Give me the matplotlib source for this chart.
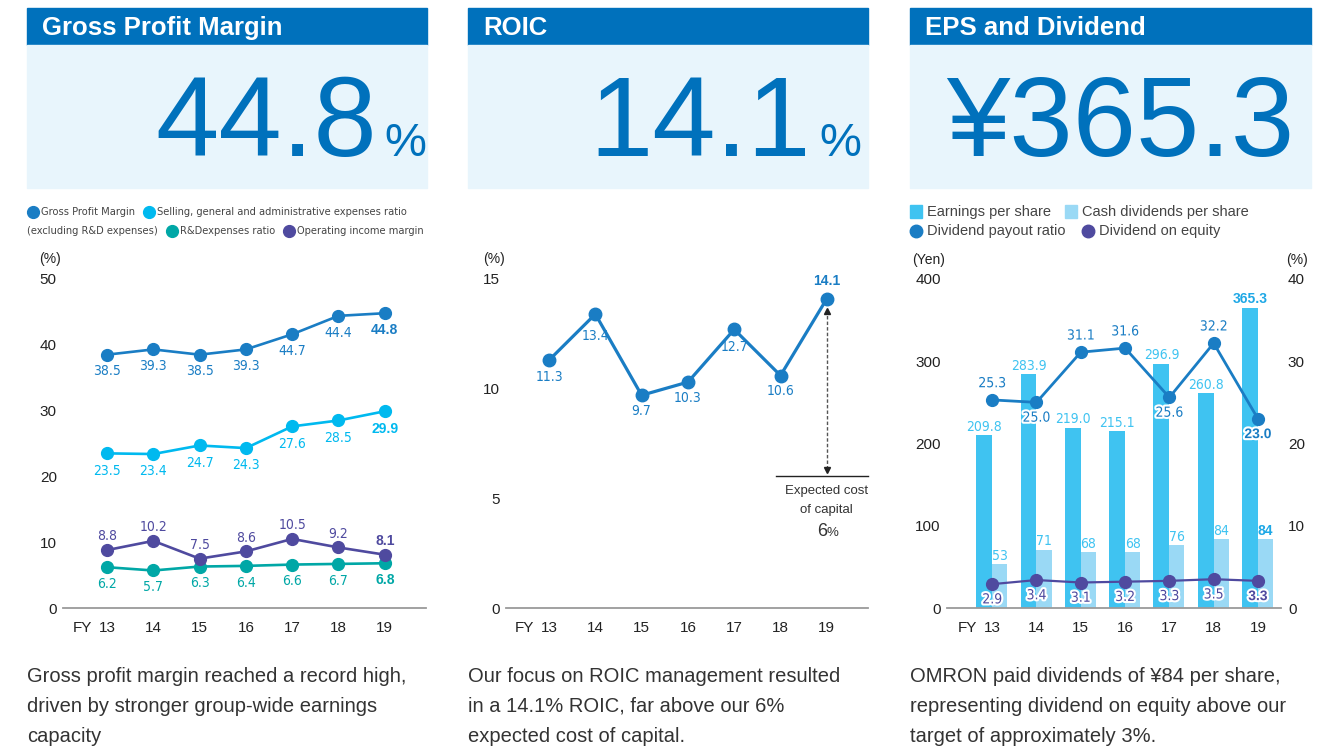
import matplotlib.pyplot as plt
import matplotlib.patheffects as pe
from matplotlib.patches import Rectangle
from matplotlib import font_manager
import numpy as np

W, H = 1335, 754

years = ['13', '14', '15', '16', '17', '18', '19']

# Gross profit margin panel
gross_margin = [38.5, 39.3, 38.5, 39.3, 41.6, 44.4, 44.8]
gross_labels = ['38.5', '39.3', '38.5', '39.3', '44.7', '44.4', '44.8']
sga_ratio = [23.5, 23.4, 24.7, 24.3, 27.6, 28.5, 29.9]
rd_ratio = [6.2, 5.7, 6.3, 6.4, 6.6, 6.7, 6.8]
op_margin = [8.8, 10.2, 7.5, 8.6, 10.5, 9.2, 8.1]

# ROIC panel
roic = [11.3, 13.4, 9.7, 10.3, 12.7, 10.6, 14.1]
cost_of_capital = 6

# EPS and dividend panel
eps = [209.8, 283.9, 219.0, 215.1, 296.9, 260.8, 365.3]
dividends = [53, 71, 68, 68, 76, 84, 84]
payout = [25.3, 25.0, 31.1, 31.6, 25.6, 32.2, 23.0]
payout_pos = ['up', 'down', 'up', 'up', 'down', 'up', 'down']
doe = [2.9, 3.4, 3.1, 3.2, 3.3, 3.5, 3.3]

BLUE = '#0071BC'
LIGHT = '#E8F5FC'
GROSS = '#1A7DC4'
SGA = '#00B9EF'
RD = '#00A7A6'
OP = '#4F4A9F'
EPS_C = '#3FC3F1'
DIV_C = '#9AD9F5'
TXT = '#333333'

SANS = 'Liberation Sans'
plt.rcParams['font.family'] = [SANS, 'DejaVu Sans']

# look for an upright condensed face for the narrow texts
cond = None
for f in font_manager.fontManager.ttflist:
    nm = f.name + ' ' + str(f.stretch)
    if ('Narrow' in nm or 'ondensed' in nm) and f.style == 'normal' \
            and f.weight in (400, 'normal', 'regular', 'book'):
        cond = f.fname
        break
NARROW = font_manager.FontProperties(fname=cond) if cond else font_manager.FontProperties(family=SANS)

fig = plt.figure(figsize=(W / 100, H / 100), dpi=100)
fig.patch.set_facecolor('white')
renderer = fig.canvas.get_renderer()


def px_axes(x0, y0, x1, y1):
    return fig.add_axes([x0 / W, 1 - y1 / H, (x1 - x0) / W, (y1 - y0) / H])


def ftext(x, y, s, **kw):
    return fig.text(x / W, 1 - y / H, s, **kw)


def box(x0, y0, x1, y1, color):
    fig.patches.append(Rectangle((x0 / W, 1 - y1 / H), (x1 - x0) / W, (y1 - y0) / H,
                                 transform=fig.transFigure, color=color, zorder=0))


def dot(cx, cy, c, ms=8.5):
    fig.add_artist(plt.Line2D([cx / W], [1 - cy / H], marker='o', ms=ms, color=c,
                              transform=fig.transFigure))


# headers
panels = [(27, 427, 'Gross Profit Margin', '44.8', '%', 377, 384),
          (468, 868, 'ROIC', '14.1', '%', 811, 819),
          (910, 1311, 'EPS and Dividend', '¥365.3', '', 1294, 0)]
for x0, x1, title, big, unit, xr, xu in panels:
    box(x0, 8, x1, 45, BLUE)
    box(x0, 45, x1, 188, LIGHT)
    ftext(x0 + 15, 35, title, color='white', fontsize=18.5, fontweight='bold', va='baseline')
    ftext(xr, 156, big, color=BLUE, fontsize=82, ha='right', va='baseline')
    if unit:
        ftext(xu, 156, unit, color=BLUE, fontsize=34, ha='left', va='baseline')


def style(ax, ylim, yticks, xlim):
    ax.set_xlim(*xlim)
    ax.set_ylim(*ylim)
    ax.set_facecolor('none')
    for s in ['top', 'left', 'right']:
        ax.spines[s].set_visible(False)
    ax.spines['bottom'].set_color('#9a9a9a')
    ax.spines['bottom'].set_linewidth(1.3)
    ax.set_xticks(range(len(years)))
    ax.set_xticklabels(years)
    ax.set_yticks(yticks)
    ax.tick_params(length=0, labelsize=11, labelcolor='#222222')
    ax.tick_params(axis='x', pad=9)
    ax.tick_params(axis='y', pad=4.5)
    ax.annotate('FY', xy=(0, 0), xycoords=('data', 'axes fraction'), xytext=(-10.5, -14.5),
                textcoords='offset points', ha='right', va='center', fontsize=11, color='#222222')


def labels(ax, vals, texts, color, dy, bold_last=True, stroke=False, size=10):
    for i, (v, t) in enumerate(zip(vals, texts)):
        kw = {}
        if stroke:
            kw['path_effects'] = [pe.withStroke(linewidth=3, foreground='white')]
        fp = NARROW.copy()
        fp.set_size(size)
        if bold_last and i == len(vals) - 1:
            fp = font_manager.FontProperties(family=SANS, weight='bold', size=size)
        ax.annotate(t, xy=(i, v), xytext=(0, dy[i] if isinstance(dy, list) else dy),
                    textcoords='offset points', ha='center', va='center', color=color,
                    fontproperties=fp, **kw)


x = np.arange(len(years))

# ---------------- Panel 1 ----------------
ax1 = px_axes(63, 279, 426, 608)
style(ax1, (0, 50), range(0, 51, 10), (-0.95, 6.89))
for vals, c in [(gross_margin, GROSS), (sga_ratio, SGA), (rd_ratio, RD), (op_margin, OP)]:
    ax1.plot(x, vals, color=c, lw=1.9, marker='o', ms=8.5, clip_on=False, zorder=3)
labels(ax1, gross_margin, gross_labels, GROSS, -12)
labels(ax1, sga_ratio, [f'{v:.1f}' for v in sga_ratio], SGA, -12.5)
labels(ax1, rd_ratio, [f'{v:.1f}' for v in rd_ratio], RD, -12)
labels(ax1, op_margin, [f'{v:.1f}' for v in op_margin], OP, 10)
ftext(50, 259, '(%)', fontsize=10, color='#222222', ha='center', va='center')

# legend panel 1, laid out item after item
leg_fp = NARROW.copy()
leg_fp.set_size(7.9)
legend_rows = [
    (212, 27, [(GROSS, 'Gross Profit Margin'),
               (SGA, 'Selling, general and administrative expenses ratio')]),
    (231, 27, [(None, '(excluding R&D expenses)'), (RD, 'R&Dexpenses ratio'),
               (OP, 'Operating income margin')]),
]
for cy, cx, items in legend_rows:
    for c, s in items:
        if c is not None:
            dot(cx + 6, cy, c)
            cx += 14
        t = ftext(cx, cy, s, fontproperties=leg_fp, color='#444444', va='center')
        cx = t.get_window_extent(renderer).x1 + 8

# ---------------- Panel 2 ----------------
ax2 = px_axes(506, 279, 868, 608)
style(ax2, (0, 15), [0, 5, 10, 15], (-0.93, 6.89))
ax2.plot(x, roic, color=GROSS, lw=2.3, marker='o', ms=9, clip_on=False, zorder=3)
roic_dy = [-12, -16, -11.5, -11.5, -12.5, -11.5, 13]
labels(ax2, roic, [f'{v:.1f}' for v in roic], GROSS, roic_dy)
ax2.plot([6, 6], [cost_of_capital + 0.35, roic[-1] - 0.45], color='#555555', lw=1,
         ls=(0, (2.5, 1.5)))
ax2.plot([6], [roic[-1] - 0.55], marker='^', ms=5, color='#222222')
ax2.plot([6], [cost_of_capital + 0.3], marker='v', ms=5, color='#222222')
ax2.plot([4.9, 6.89], [cost_of_capital, cost_of_capital], color='#222222', lw=1, clip_on=False)
ax2.text(6, 5.33, 'Expected cost', ha='center', va='center', fontsize=9.5, color=TXT)
ax2.text(6, 4.47, 'of capital', ha='center', va='center', fontsize=9.5, color=TXT)
ax2.text(6, 3.47, f'{cost_of_capital}', ha='right', va='center', fontsize=13, color=TXT)
ax2.text(6, 3.42, '%', ha='left', va='center', fontsize=9.5, color=TXT)
ftext(494, 259, '(%)', fontsize=10, color='#222222', ha='center', va='center')

# ---------------- Panel 3 ----------------
ax3 = px_axes(947, 279, 1281, 608)
style(ax3, (0, 400), range(0, 401, 100), (-1.02, 6.52))
ax3.bar(x - 0.18, eps, width=0.36, color=EPS_C, zorder=2)
ax3.bar(x + 0.17, dividends, width=0.34, color=DIV_C, zorder=2)
for i in range(len(years)):
    last = i == len(years) - 1
    fp = font_manager.FontProperties(family=SANS, weight='bold', size=10) if last else NARROW.copy()
    fp.set_size(10)
    col = '#1FA8E6' if last else EPS_C
    ax3.annotate(f'{eps[i]:.1f}', xy=(i - 0.18, eps[i]), xytext=(0, 1), textcoords='offset points',
                 ha='center', va='bottom', fontproperties=fp, color=col)
    ax3.annotate(f'{dividends[i]}', xy=(i + 0.17, dividends[i]), xytext=(0, 1),
                 textcoords='offset points', ha='center', va='bottom', fontproperties=fp, color=col)
ax3r = ax3.twinx()
ax3r.set_ylim(0, 40)
ax3r.set_yticks(range(0, 41, 10))
ax3r.tick_params(length=0, labelsize=11, labelcolor='#222222', pad=5)
for s in ['top', 'left', 'right', 'bottom']:
    ax3r.spines[s].set_visible(False)
ax3r.plot(x, payout, color=GROSS, lw=2.0, marker='o', ms=8.5, clip_on=False, zorder=3)
ax3r.plot(x, doe, color=OP, lw=1.6, marker='o', ms=8.5, clip_on=False, zorder=3)
labels(ax3r, payout, [f'{v:.1f}' for v in payout], GROSS,
       [12 if p == 'up' else -11 for p in payout_pos], stroke=True)
labels(ax3r, doe, [f'{v:.1f}' for v in doe], OP, -11, stroke=True)
ftext(929, 260, '(Yen)', fontsize=10, color='#222222', ha='center', va='center')
ftext(1297, 260, '(%)', fontsize=10, color='#222222', ha='center', va='center')

# legend panel 3
leg3 = dict(fontsize=10.5, color='#444444', va='center')
for cx, c in [(916, EPS_C), (1071, DIV_C)]:
    fig.patches.append(Rectangle(((cx - 6) / W, 1 - 218 / H), 12 / W, 13 / H,
                                 transform=fig.transFigure, color=c))
dot(916, 231, GROSS, 9)
dot(1088, 231, OP, 9)
ftext(927, 212, 'Earnings per share', **leg3)
ftext(1082, 212, 'Cash dividends per share', **leg3)
ftext(927, 231, 'Dividend payout ratio', **leg3)
ftext(1099, 231, 'Dividend on equity', **leg3)

# captions
captions = [
    (27, ['Gross profit margin reached a record high,', 'driven by stronger group-wide earnings',
          'capacity']),
    (468, ['Our focus on ROIC management resulted', 'in a 14.1% ROIC, far above our 6%',
           'expected cost of capital.']),
    (910, ['OMRON paid dividends of ¥84 per share,', 'representing dividend on equity above our',
           'target of approximately 3%.']),
]
for cx, lines in captions:
    for k, line in enumerate(lines):
        ftext(cx, 676 + 30 * k, line, fontsize=14.5, color=TXT, va='center')

fig.savefig('out.png', dpi=100)
